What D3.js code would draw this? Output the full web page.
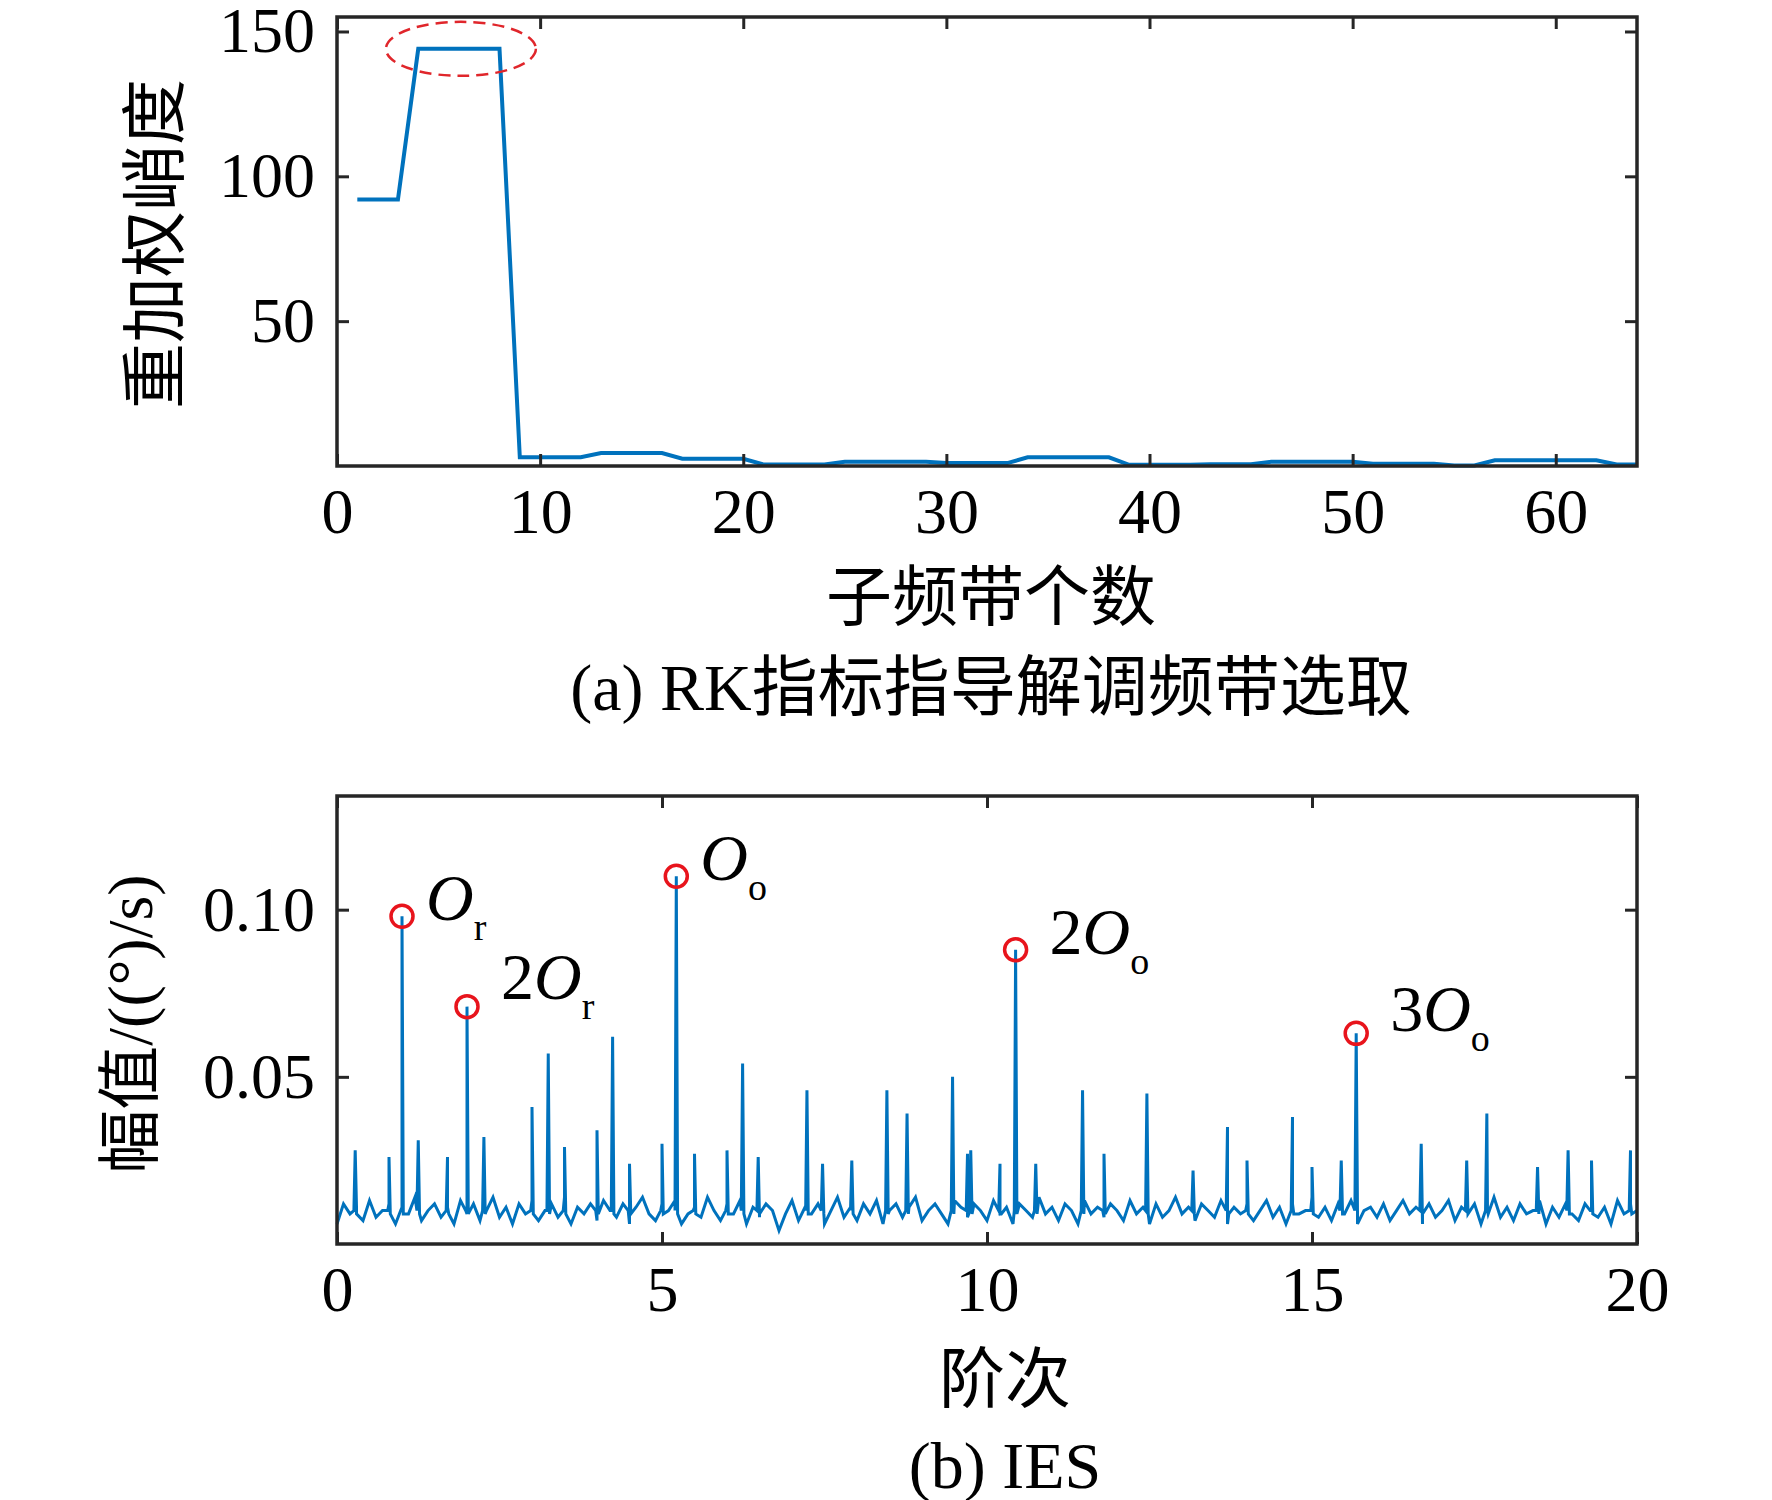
<!DOCTYPE html>
<html><head><meta charset="utf-8">
<script src="https://cdn.jsdelivr.net/npm/d3@7"></script>
<style>body{margin:0;background:#fff}text{font-family:"Liberation Serif","Noto Sans CJK SC",serif;fill:#000}</style>
</head><body>
<script>
// panel (a): RK per sub-band
var bandIdx = d3.range(1, 65);
var rkVals = [92,92,92,144,144,144,144,144,3,3,3,3,4.5,4.5,4.5,4.5,2.5,2.5,2.5,2.5,
  0.5,0.5,0.5,0.5,1.5,1.5,1.5,1.5,1.5,1,1,1,1,3,3,3,3,3,0.4,0.4,
  0.4,0.4,0.6,0.6,0.6,1.5,1.5,1.5,1.5,1.5,0.8,0.8,0.8,0.8,0.2,0.2,2,2,2,2,2,2,0.5,0.5];
var rkTicksX = [0,10,20,30,40,50,60];
var rkTicksY = [50,100,150];

// panel (b): IES, noise floor every 0.1 order, plus peaks
var floorVals = [0.006,0.012,0.009,0.011,0.007,0.013,0.008,0.010,0.012,0.006,
  0.011,0.009,0.014,0.007,0.010,0.012,0.008,0.011,0.006,0.013,
  0.009,0.012,0.007,0.010,0.014,0.008,0.011,0.006,0.012,0.009,
  0.013,0.007,0.010,0.012,0.008,0.014,0.006,0.011,0.009,0.012,
  0.007,0.013,0.010,0.008,0.012,0.006,0.011,0.014,0.009,0.007,
  0.012,0.010,0.013,0.006,0.009,0.011,0.008,0.014,0.010,0.007,
  0.012,0.009,0.013,0.006,0.011,0.008,0.012,0.010,0.004,0.009,
  0.013,0.007,0.011,0.009,0.012,0.006,0.010,0.014,0.008,0.011,
  0.007,0.012,0.009,0.013,0.006,0.010,0.012,0.008,0.011,0.014,
  0.007,0.010,0.012,0.009,0.006,0.013,0.011,0.008,0.012,0.010,
  0.007,0.013,0.009,0.011,0.006,0.012,0.010,0.008,0.014,0.009,
  0.011,0.007,0.012,0.010,0.006,0.013,0.009,0.011,0.008,0.012,
  0.010,0.007,0.013,0.009,0.011,0.006,0.012,0.008,0.010,0.014,
  0.009,0.011,0.007,0.012,0.010,0.008,0.013,0.006,0.011,0.009,
  0.012,0.007,0.010,0.013,0.008,0.011,0.006,0.012,0.009,0.010,
  0.014,0.008,0.011,0.007,0.012,0.009,0.013,0.006,0.010,0.011,
  0.008,0.012,0.007,0.010,0.013,0.009,0.011,0.006,0.012,0.008,
  0.010,0.013,0.007,0.011,0.009,0.012,0.006,0.010,0.014,0.008,
  0.011,0.007,0.012,0.009,0.010,0.013,0.006,0.011,0.008,0.012,
  0.009,0.007,0.012,0.010,0.008,0.011,0.006,0.013,0.009,0.012,0.010];
var peakX = [0.28,0.8,1.0,1.25,1.7,2.0,2.26,3.0,3.25,3.5,4.0,4.24,4.5,5.0,5.22,5.5,6.0,6.24,6.48,
  7.23,7.47,7.92,8.46,8.77,9.47,9.7,9.75,10.2,10.44,10.75,11.47,11.8,12.46,13.17,13.7,14.0,
  14.7,15.0,15.45,15.68,16.68,17.38,17.69,18.47,18.94,19.3,19.9];
var peakY = [0.028,0.026,0.098,0.031,0.026,0.071,0.032,0.041,0.057,0.029,0.034,0.062,0.024,0.030,0.110,0.027,
  0.028,0.054,0.026,0.046,0.024,0.025,0.046,0.039,0.050,0.027,0.028,0.024,0.088,0.024,0.046,0.027,
  0.045,0.022,0.035,0.025,0.038,0.023,0.025,0.063,0.030,0.025,0.039,0.023,0.028,0.025,0.028];
var markX = [1.0,2.0,5.22,10.44,15.68];
var markY = [0.098,0.071,0.110,0.088,0.063];
var markNum = ["","2","","2","3"];
var markSub = ["r","r","o","o","o"];
var iesTicksX = [0,5,10,15,20];
var iesTicksY = [0.05,0.10];

var blue = "#0072BD";
var svg = d3.select("body").append("svg").attr("width", 1772).attr("height", 1500);

function frame(g, x, y, xt, yt, yfmt) {
  var x0 = x.range()[0], x1 = x.range()[1], y0 = y.range()[0], y1 = y.range()[1];
  g.append("g").attr("transform", "translate(0," + y0 + ")")
    .call(d3.axisBottom(x).tickValues(xt).tickSize(-12).tickPadding(22).tickFormat(d3.format("d")));
  g.append("g").attr("transform", "translate(0," + y1 + ")")
    .call(d3.axisTop(x).tickValues(xt).tickSize(-12).tickFormat(""));
  g.append("g").attr("transform", "translate(" + x0 + ",0)")
    .call(d3.axisLeft(y).tickValues(yt).tickSize(-12).tickPadding(22).tickFormat(yfmt));
  g.append("g").attr("transform", "translate(" + x1 + ",0)")
    .call(d3.axisRight(y).tickValues(yt).tickSize(-12).tickFormat(""));
  g.selectAll(".domain").remove();
  g.selectAll(".tick line").attr("stroke", "#262626").attr("stroke-width", 3);
  g.selectAll(".tick text").style("font-size", "64px").attr("fill", "#000");
  g.append("rect").attr("x", x0).attr("y", y1).attr("width", x1 - x0).attr("height", y0 - y1)
    .attr("fill", "none").attr("stroke", "#262626").attr("stroke-width", 3.5);
}

// ---- panel (a)
var xa = d3.scaleLinear().domain([0, 64]).range([337, 1637]);
var ya = d3.scaleLinear().domain([0, 155]).range([466, 17]);
var ga = svg.append("g");
ga.append("path").datum(bandIdx)
  .attr("d", d3.line().x(function(d) { return xa(d); }).y(function(d, i) { return ya(rkVals[i]); }))
  .attr("fill", "none").attr("stroke", blue).attr("stroke-width", 4);
ga.append("ellipse").attr("cx", xa(6.1)).attr("cy", ya(144)).attr("rx", 75).attr("ry", 27)
  .attr("fill", "none").attr("stroke", "#e0262b").attr("stroke-width", 2.5).attr("stroke-dasharray", "12,7");
frame(ga, xa, ya, rkTicksX, rkTicksY, d3.format("d"));
ga.append("text").attr("transform", "translate(178,244) rotate(-90)").attr("text-anchor", "middle")
  .style("font-size", "66px").text("重加权峭度");
ga.append("text").attr("x", 991).attr("y", 620).attr("text-anchor", "middle").style("font-size", "66px").text("子频带个数");
ga.append("text").attr("x", 991).attr("y", 710).attr("text-anchor", "middle").style("font-size", "66px").text("(a) RK指标指导解调频带选取");

// ---- panel (b)
var xb = d3.scaleLinear().domain([0, 20]).range([337, 1637]);
var yb = d3.scaleLinear().domain([0, 0.134]).range([1244, 796]);
var pts = floorVals.map(function(v, i) { return [i * 0.1, v]; });
peakX.forEach(function(px, i) {
  pts.push([px - 0.02, 0.010], [px, peakY[i]], [px + 0.02, 0.009]);
});
pts.sort(function(a, b) { return a[0] - b[0]; });
var gb = svg.append("g");
gb.append("path").datum(pts)
  .attr("d", d3.line().x(function(d) { return xb(d[0]); }).y(function(d) { return yb(d[1]); }))
  .attr("fill", "none").attr("stroke", blue).attr("stroke-width", 3);
gb.selectAll("circle.mk").data(markX).enter().append("circle")
  .attr("cx", function(d) { return xb(d); }).attr("cy", function(d, i) { return yb(markY[i]); })
  .attr("r", 11).attr("fill", "none").attr("stroke", "#e8141c").attr("stroke-width", 3.5);
var lab = gb.selectAll("text.mk").data(markX).enter().append("text")
  .attr("x", function(d, i) { return xb(d) + (markNum[i] ? 34 : 24); })
  .attr("y", function(d, i) { return yb(markY[i]) + (i == 1 ? -8 : i == 4 ? -2 : 4); })
  .style("font-size", "66px");
lab.append("tspan").text(function(d, i) { return markNum[i]; });
lab.append("tspan").style("font-style", "italic").text("O");
lab.append("tspan").attr("dy", 20).style("font-size", "38px").text(function(d, i) { return markSub[i]; });
frame(gb, xb, yb, iesTicksX, iesTicksY, d3.format(".2f"));
gb.append("text").attr("transform", "translate(152,1024) rotate(-90)").attr("text-anchor", "middle")
  .style("font-size", "64px").text("幅值/((°)/s)");
gb.append("text").attr("x", 1005).attr("y", 1402).attr("text-anchor", "middle").style("font-size", "66px").text("阶次");
gb.append("text").attr("x", 1005).attr("y", 1488).attr("text-anchor", "middle").style("font-size", "66px").text("(b) IES");
</script>
</body></html>
